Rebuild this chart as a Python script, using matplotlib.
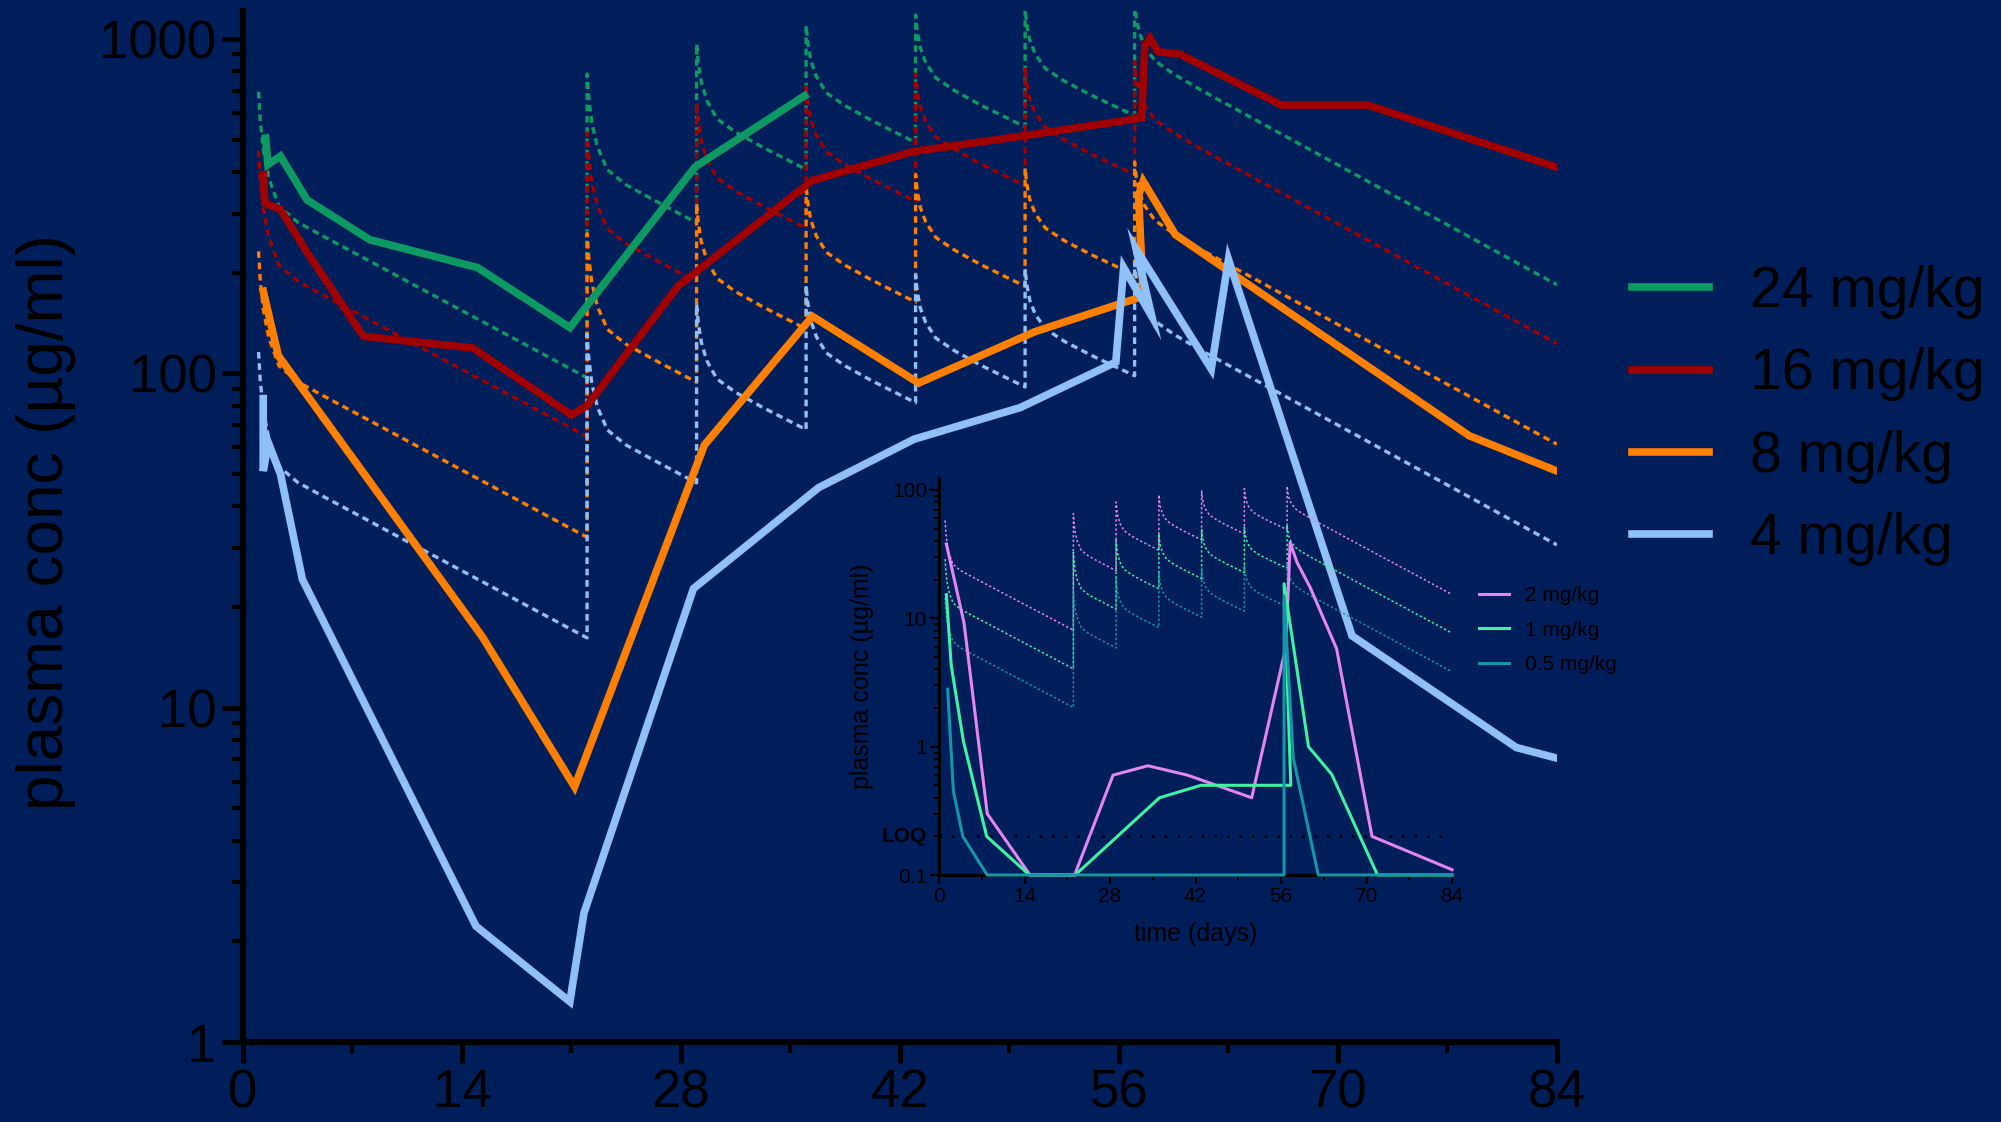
import matplotlib.pyplot as plt
import matplotlib.transforms as mtransforms
from matplotlib import rcParams
from matplotlib.ticker import FixedLocator, LogLocator, NullFormatter, FixedFormatter

rcParams['font.family'] = 'Liberation Sans'

navy = '#001e5a'

# measured plasma concentrations (ug/ml), main panel
t_24 = [1.45, 1.6, 2.4, 4.1, 8.1, 15.0, 20.9, 28.9, 35.9]
c_24 = [505, 421, 446, 330, 251, 207, 137, 414, 676]
t_16 = [1.3, 1.4, 2.4, 4.1, 7.7, 14.7, 21.0, 22.0, 27.8, 36.4, 42.8, 49.9,
        57.45, 57.66, 57.98, 58.5, 59.9, 66.4, 71.9, 84.0]
c_16 = [393, 323, 309, 230, 129, 119, 75, 80, 182, 377, 460, 513,
        580, 960, 1005, 916, 900, 634, 634, 413]
t_8 = [1.3, 2.26, 15.3, 21.2, 29.5, 36.4, 43.2, 50.6, 57.55, 57.25, 57.55,
       59.6, 78.4, 84.0]
c_8 = [176, 113, 16.3, 5.8, 61, 148, 93.5, 133, 170, 340, 375,
       260, 65, 51]
t_4 = [1.3, 1.3, 1.62, 2.4, 3.8, 14.9, 20.9, 21.8, 28.8, 36.8, 42.9, 49.7,
       55.8, 56.3, 58.1, 57.1, 61.9, 63.0, 70.9, 81.4, 84.0]
c_4 = [84, 51, 62, 50, 24.2, 2.22, 1.32, 2.43, 22.7, 45.5, 63.5, 79,
       108, 207, 148, 235, 103, 219, 16.4, 7.6, 7.06]

# measured concentrations, inset (low doses)
t_2 = [1.2, 4.1, 7.9, 14.9, 22.2, 28.5, 34.2, 40.7, 51.2, 56.8, 57.5, 58.6,
       60.75, 65.1, 70.9, 84.0]
c_2 = [38, 9.2, 0.30, 0.1, 0.1, 0.6, 0.71, 0.6, 0.4, 6.0, 39, 27.4,
       17.5, 5.8, 0.2, 0.11]
t_1 = [1.2, 2.0, 4.0, 7.8, 14.8, 22.3, 36.1, 42.9, 57.6, 56.5, 60.5, 64.3,
       71.8, 84.0]
c_1 = [15.3, 4.3, 1.1, 0.2, 0.1, 0.1, 0.4, 0.5, 0.5, 18.6, 1.0, 0.61,
       0.1, 0.1]
t_05 = [1.42, 2.35, 3.9, 7.9, 56.5, 56.5, 58.0, 62.1, 84.0]
c_05 = [2.8, 0.45, 0.2, 0.1, 0.1, 15, 0.82, 0.1, 0.1]

# model prediction (dose proportional)
pred_t = [1.0, 1.1, 1.3, 1.65, 2.3, 3.5, 5.2, 22.0,
          22.0, 22.1, 22.3, 22.65, 23.3, 24.5, 26.2, 29.0,
          29.0, 29.1, 29.3, 29.65, 30.3, 31.5, 33.2, 36.0,
          36.0, 36.1, 36.3, 36.65, 37.3, 38.5, 40.2, 43.0,
          43.0, 43.1, 43.3, 43.65, 44.3, 45.5, 47.2, 50.0,
          50.0, 50.1, 50.3, 50.65, 51.3, 52.5, 54.2, 57.0,
          57.0, 57.1, 57.3, 57.65, 58.3, 59.5, 61.2, 84.0]
pred_24 = [695, 577, 466, 384, 316, 283, 256, 97,
           785, 673, 561, 477, 406, 366, 331, 282,
           966, 857, 743, 655, 577, 526, 475, 407,
           1099, 979, 863, 773, 690, 631, 570, 490,
           1179, 1058, 941, 850, 764, 700, 633, 546,
           1231, 1110, 992, 900, 815, 748, 680, 590,
           1285, 1162, 1044, 950, 860, 785, 705, 184]

main_doses = [24, 16, 8, 4]
main_labels = ['24 mg/kg', '16 mg/kg', '8 mg/kg', '4 mg/kg']
main_colors = ['#0c9a62', '#a00000', '#ff8000', '#90c0f8']
main_t = [t_24, t_16, t_8, t_4]
main_c = [c_24, c_16, c_8, c_4]

inset_doses = [2, 1, 0.5]
inset_labels = ['2 mg/kg', '1 mg/kg', '0.5 mg/kg']
inset_colors = ['#e486ef', '#40f2a2', '#1596a8']
inset_t = [t_2, t_1, t_05]
inset_c = [c_2, c_1, c_05]

LOQ = 0.2

fig = plt.figure(figsize=(20.01, 11.22), dpi=100)
fig.patch.set_facecolor(navy)

ax = fig.add_axes([0.1214, 0.0713, 0.6567, 0.9189])
ax.set_facecolor(navy)

for d, col in zip(main_doses, main_colors):
    ax.plot(pred_t, [p * d / 24 for p in pred_24], color=col, lw=2.4,
            linestyle=(0, (2, 1.4)))
for t, c, col, lab in zip(main_t, main_c, main_colors, main_labels):
    ax.plot(t, c, color=col, lw=5.5, label=lab, solid_joinstyle='miter')

ax.set_yscale('log')
ax.set_xlim(0, 84)
ax.set_ylim(1, 1212)
ax.xaxis.set_major_locator(FixedLocator([0, 14, 28, 42, 56, 70, 84]))
ax.xaxis.set_minor_locator(FixedLocator([7, 21, 35, 49, 63, 77]))
ax.yaxis.set_major_locator(FixedLocator([1, 10, 100, 1000]))
ax.yaxis.set_major_formatter(FixedFormatter(['1', '10', '100', '1000']))
ax.yaxis.set_minor_locator(LogLocator(base=10, subs=range(2, 10)))
ax.yaxis.set_minor_formatter(NullFormatter())
for s in ['top', 'right']:
    ax.spines[s].set_visible(False)
for s in ['left', 'bottom']:
    ax.spines[s].set_linewidth(4.5)
ax.tick_params(which='major', direction='out', length=15, width=3.5,
               labelsize=38, pad=4)
ax.tick_params(which='minor', direction='out', length=8, width=3)
ax.set_ylabel('plasma conc (µg/ml)', fontsize=46)
ax.yaxis.set_label_coords(-0.127, 0.504)

ax.legend(loc='upper left', bbox_to_anchor=(1632 / 2001, 1 - 265 / 1122),
          bbox_transform=fig.transFigure, frameon=False, fontsize=41,
          handlelength=1.35, handletextpad=0.72, labelspacing=0.5,
          borderpad=0, borderaxespad=0)

# inset with the low doses
ax_in = fig.add_axes([0.46927, 0.22014, 0.25637, 0.35384])
ax_in.set_facecolor('none')
for d, col in zip(inset_doses, inset_colors):
    ax_in.plot(pred_t, [p * d / 24 for p in pred_24], color=col, lw=1.1,
               linestyle=(0, (1.5, 1.5)))
ax_in.plot([0, 84], [LOQ, LOQ], color='black', lw=2, linestyle=(0, (1, 3.5)))
for t, c, col, lab in zip(inset_t, inset_c, inset_colors, inset_labels):
    ax_in.plot(t, c, color=col, lw=2.2, label=lab, clip_on=False, zorder=3)

ax_in.set_yscale('log')
ax_in.set_xlim(0, 84)
ax_in.set_ylim(0.1, 124)
ax_in.xaxis.set_major_locator(FixedLocator([0, 14, 28, 42, 56, 70, 84]))
ax_in.xaxis.set_minor_locator(FixedLocator([7, 21, 35, 49, 63, 77]))
ax_in.yaxis.set_major_locator(FixedLocator([0.1, 1, 10, 100]))
ax_in.yaxis.set_major_formatter(FixedFormatter(['0.1', '1', '10', '100']))
ax_in.yaxis.set_minor_locator(LogLocator(base=10, subs=range(2, 10)))
ax_in.yaxis.set_minor_formatter(NullFormatter())
for s in ['top', 'right']:
    ax_in.spines[s].set_visible(False)
for s in ['left', 'bottom']:
    ax_in.spines[s].set_linewidth(2.2)
ax_in.tick_params(which='major', direction='out', length=6.5, width=1.6,
                  labelsize=15, pad=2)
ax_in.tick_params(which='minor', direction='out', length=3.5, width=1.4)
trans = mtransforms.blended_transform_factory(ax_in.transAxes, ax_in.transData)
ax_in.text(-0.024, LOQ, 'LOQ', transform=trans, ha='right', va='center',
           fontsize=15, fontweight='bold')
ax_in.set_xlabel('time (days)', fontsize=18, labelpad=12)
ax_in.set_ylabel('plasma conc (µg/ml)', fontsize=18, labelpad=13)
ax_in.legend(loc='upper left', bbox_to_anchor=(1479 / 2001, 1 - 586 / 1122),
             bbox_transform=fig.transFigure, frameon=False, fontsize=15,
             handlelength=1.45, handletextpad=0.75, labelspacing=0.75,
             borderpad=0, borderaxespad=0)

fig.savefig('out.png', dpi=100, facecolor=navy)
